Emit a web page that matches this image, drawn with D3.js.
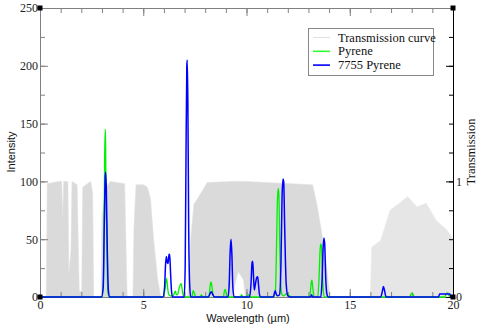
<!DOCTYPE html>
<html><head><meta charset="utf-8">
<script src="https://cdn.jsdelivr.net/npm/d3@7"></script>
<style>body{margin:0;background:#fff}</style>
</head><body><svg id="c" width="480" height="326"></svg>
<script>
// Transmission envelope: [wavelength µm, upper (x100), lower (x100)]
const transmission = [
 [0.30,0,0],[0.35,98,0],[0.90,100,0],[1.05,100,0],[1.10,70,0],[1.15,100,0],[1.35,100,0],[1.40,20,0],
 [1.50,40,0],[1.55,100,0],[1.80,97,0],[1.86,40,0],[1.90,5,0],[2.02,5,0],[2.07,95,0],[2.45,100,0],
 [2.55,90,0],[2.60,0,0],[2.95,0,0],[3.00,70,0],[3.20,95,0],[3.40,100,0],[4.10,98,0],[4.17,40,0],
 [4.22,0,0],[4.50,0,0],[4.55,60,0],[4.65,97,0],[5.00,97,0],[5.20,95,0],[5.35,85,0],[5.50,50,0],
 [5.70,15,0],[5.85,0,0],[7.15,0,0],[7.30,50,0],[7.45,80,0],[7.80,90,0],[8.10,99,0],[9.35,100,0],
 [9.45,100,12],[9.60,100,22],[9.85,100,15],[9.95,100,0],[13.20,97,0],[13.40,81,0],[13.65,55,0],
 [13.90,23,0],[14.05,0,0],[16.00,0,0],[16.06,43,0],[16.50,49,0],[16.95,75,0],[17.40,81,0],
 [17.80,87,0],[18.25,78,0],[18.70,81,0],[19.20,66,0],[19.70,58,0],[19.95,52,0],[20.00,50,0]
];
// Pyrene (green): [wavelength µm, intensity]
const pyrene = [
 [0,0],[3.00,0],[3.06,10],[3.10,50],[3.13,120],[3.16,145],[3.18,130],[3.20,75],[3.23,60],[3.26,20],[3.30,3],[3.36,0],
 [5.95,0],[6.05,6],[6.10,14],[6.13,16],[6.17,10],[6.22,3],[6.30,1],[6.45,1],[6.52,4],[6.56,5],[6.60,2],[6.66,2],
 [6.74,8],[6.80,11],[6.84,11.5],[6.88,7],[6.95,1],[7.05,0],
 [7.35,0],[7.42,5.5],[7.48,3],[7.55,0],[7.75,0],[7.82,2],[7.88,0],
 [8.18,0],[8.24,10],[8.28,13],[8.32,10],[8.38,2],[8.45,0],
 [8.88,0],[8.94,6],[8.98,6.5],[9.03,2],[9.08,0],
 [9.70,0],[9.76,2],[9.82,0],[10.00,0],[10.10,2],[10.20,0],
 [11.30,0],[11.40,5],[11.45,40],[11.50,85],[11.54,94],[11.57,88],[11.61,45],[11.66,10],[11.72,2],[11.80,1],
 [11.95,3],[12.08,1],[12.20,0],
 [13.05,0],[13.10,6],[13.14,13],[13.17,14.5],[13.21,8],[13.26,1],[13.30,0],
 [13.45,0],[13.51,15],[13.56,40],[13.60,46],[13.63,44],[13.67,25],[13.72,5],[13.78,0],
 [17.90,0],[17.98,3],[18.05,3],[18.12,0],
 [19.60,0],[19.68,3],[19.75,3.5],[19.82,1],[20.00,0]
];
// 7755 Pyrene (blue): [wavelength µm, intensity]
const pyrene7755 = [
 [0,0],[2.98,0],[3.06,8],[3.11,60],[3.16,104],[3.18,108],[3.21,95],[3.26,40],[3.31,6],[3.38,0],
 [5.95,0],[6.03,8],[6.08,28],[6.12,35],[6.16,30],[6.20,29],[6.25,37],[6.28,37],[6.32,22],[6.37,5],[6.42,0],
 [6.98,0],[7.03,25],[7.07,120],[7.11,200],[7.13,205],[7.16,170],[7.20,60],[7.25,10],[7.30,0],
 [8.15,0],[8.25,3.5],[8.30,4.5],[8.37,2],[8.45,0],
 [9.10,0],[9.16,10],[9.21,40],[9.25,50],[9.29,38],[9.34,8],[9.40,0],
 [10.15,0],[10.22,12],[10.27,30],[10.30,31],[10.34,18],[10.38,6],[10.42,10],[10.50,17],[10.54,17.5],[10.58,11],[10.63,2],[10.68,0],
 [11.30,0],[11.36,4],[11.39,5.5],[11.43,3],[11.50,1],[11.60,2],[11.67,30],[11.72,85],[11.77,102],[11.80,100],[11.85,60],[11.92,12],[12.00,1],[12.10,0],
 [13.10,0],[13.15,2],[13.20,0],
 [13.60,0],[13.66,15],[13.71,42],[13.75,51],[13.79,45],[13.84,15],[13.90,2],[13.95,0],
 [16.50,0],[16.58,5],[16.63,9],[16.68,6],[16.76,0],
 [19.30,0],[19.35,2.5],[19.85,2.5],[19.90,0],[20.00,0]
];
const xMajorTicks = [0,5,10,15,20];
const yMajorTicks = [0,50,100,150,200,250];
const rightMajorTicks = [0,1,2];
const rightTickLabels = [0,1];
const legendItems = ["Transmission curve","Pyrene","7755 Pyrene"];

const svg = d3.select("#c");
const x = d3.scaleLinear([0,20],[40,453]);
const y = d3.scaleLinear([0,250],[297,8]);
const yT = d3.scaleLinear([0,2.5],[297,8]);
const serif = "'Liberation Serif','Times New Roman',serif";
const sans = "'Liberation Sans',Arial,sans-serif";
const axisCol = "#808080";

// transmission (plotted x100 on intensity scale); far-IR part drawn lighter (sparser lines)
const tArea = d3.area().x(d=>x(d[0])).y0(d=>yT(d[2]/100)).y1(d=>yT(d[1]/100));
svg.append("path").datum(transmission.filter(d=>d[0]<=16))
  .attr("fill","#dadada").attr("stroke","#e0e0e0").attr("stroke-width",0.6).attr("d", tArea);
svg.append("path").datum(transmission.filter(d=>d[0]>=16))
  .attr("fill","#e6e6e6").attr("stroke","#ebebeb").attr("stroke-width",0.6).attr("d", tArea);

function styleAxis(g, col){
  g.selectAll("path,line").attr("stroke",col);
  g.selectAll("text").attr("fill","#222").attr("font-family",serif).attr("font-size","12px");
}
// minor ticks
const minor = (gen, pos) => svg.append("g").attr("transform",pos).call(gen.tickFormat("")).call(g=>g.select(".domain").remove());
minor(d3.axisLeft(y).tickValues(d3.range(0,251,25)).tickSize(-5), "translate(40,0)").call(g=>styleAxis(g,axisCol));
minor(d3.axisBottom(x).tickValues(d3.range(0,21,1)).tickSize(-5), "translate(0,297)").call(g=>styleAxis(g,axisCol));
minor(d3.axisTop(x).tickValues(d3.range(0,21,1)).tickSize(-5), "translate(0,8)").call(g=>styleAxis(g,axisCol));
minor(d3.axisRight(yT).tickValues(d3.range(0,2.51,0.25)).tickSize(-4), "translate(453,0)").call(g=>styleAxis(g,"#000"));

svg.append("g").attr("transform","translate(40,0)")
  .call(d3.axisLeft(y).tickValues(yMajorTicks).tickSize(-8).tickSizeOuter(0).tickPadding(2))
  .call(g=>styleAxis(g,axisCol));
svg.append("g").attr("transform","translate(0,297)")
  .call(d3.axisBottom(x).tickValues(xMajorTicks).tickSize(-8).tickSizeOuter(0).tickPadding(3))
  .call(g=>styleAxis(g,axisCol));
svg.append("g").attr("transform","translate(0,8)")
  .call(d3.axisTop(x).tickValues(xMajorTicks).tickSize(-8).tickSizeOuter(0).tickFormat(""))
  .call(g=>styleAxis(g,axisCol));
svg.append("g").attr("transform","translate(453,0)")
  .call(d3.axisRight(yT).tickValues(rightMajorTicks).tickSize(-7).tickSizeOuter(0).tickPadding(3)
    .tickFormat(d=> rightTickLabels.includes(d) ? d : ""))
  .call(g=>styleAxis(g,"#000"));

// series
const line = d3.line().x(d=>x(d[0])).y(d=>y(d[1])).curve(d3.curveMonotoneX);
svg.append("path").datum(pyrene).attr("fill","none").attr("stroke","#00f000").attr("stroke-width",1.3).attr("d",line);
svg.append("path").datum(pyrene7755).attr("fill","none").attr("stroke","#0000ff").attr("stroke-width",1.5).attr("d",line);

// corner markers
[[0,250],[20,250],[0,0],[20,0]].forEach(p=>{
  svg.append("rect").attr("x",x(p[0])-2.5).attr("y",y(p[1])-2.5).attr("width",5).attr("height",5).attr("fill","#000");
});

// titles
svg.append("text").attr("x",248).attr("y",321.5).attr("text-anchor","middle")
  .attr("font-family",sans).attr("font-size","11px").attr("fill","#111").text("Wavelength (µm)");
svg.append("text").attr("transform","translate(15,152) rotate(-90)").attr("text-anchor","middle")
  .attr("font-family",sans).attr("font-size","11px").attr("fill","#111").text("Intensity");
svg.append("text").attr("transform","translate(475,152) rotate(-90)").attr("text-anchor","middle")
  .attr("font-family",serif).attr("font-size","12.5px").attr("fill","#111").text("Transmission");

// legend
const lg = svg.append("g");
lg.append("rect").attr("x",308.5).attr("y",28.5).attr("width",125).attr("height",47)
  .attr("fill","#fff").attr("stroke","#888").attr("stroke-width",1);
const legCols = ["#e0e0e0","#33ff33","#0000ff"];
legendItems.forEach((t,i)=>{
  const yy = 37.5 + i*13.8;
  lg.append("line").attr("x1",313).attr("x2",330).attr("y1",yy).attr("y2",yy)
    .attr("stroke",legCols[i]).attr("stroke-width",i===0?1:1.6);
  lg.append("text").attr("x",338).attr("y",yy+4).attr("font-family",serif).attr("font-size","12.5px")
    .attr("fill","#111").text(t);
});
</script></body></html>
